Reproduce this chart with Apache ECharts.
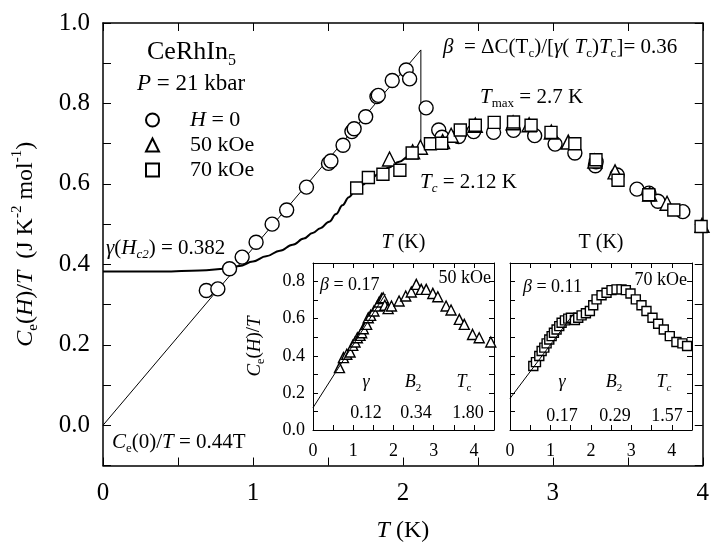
<!DOCTYPE html>
<html>
<head>
<meta charset="utf-8">
<script src="https://cdn.jsdelivr.net/npm/echarts@6/dist/echarts.min.js"></script>
<style>
  html, body { margin: 0; padding: 0; background: #fff; }
  #chart { width: 712px; height: 548px; }
</style>
</head>
<body>
<div id="chart"></div>
<script>
const FONT = 'Liberation Serif'

// main panel: C_e(H)/T vs T, points as [T, value]
const h0Points = [
  [0.689, 0.335], [0.766, 0.339], [0.844, 0.389], [0.928, 0.418], [1.021, 0.455],
  [1.128, 0.500], [1.225, 0.535], [1.357, 0.592], [1.504, 0.651], [1.520, 0.657],
  [1.601, 0.696], [1.660, 0.730], [1.675, 0.737], [1.752, 0.767], [1.827, 0.817],
  [1.836, 0.820], [1.929, 0.857], [2.022, 0.883], [2.045, 0.861], [2.155, 0.789],
  [2.239, 0.734], [2.261, 0.716], [2.372, 0.718], [2.472, 0.730], [2.605, 0.728],
  [2.738, 0.733], [2.879, 0.720], [3.015, 0.699], [3.147, 0.677], [3.284, 0.645],
  [3.289, 0.655], [3.429, 0.622], [3.561, 0.587], [3.641, 0.577], [3.701, 0.557],
  [3.867, 0.531]
]
const h50Points = [
  [1.911, 0.662], [2.065, 0.680], [2.117, 0.691], [2.265, 0.705], [2.322, 0.721],
  [2.483, 0.746], [2.735, 0.752], [2.842, 0.747], [2.990, 0.729], [3.103, 0.704],
  [3.280, 0.657], [3.415, 0.630], [3.646, 0.575], [3.762, 0.552], [3.995, 0.497]
]
const h70Points = [
  [1.692, 0.590], [1.770, 0.616], [1.867, 0.624], [1.980, 0.634], [2.062, 0.677],
  [2.184, 0.700], [2.259, 0.701], [2.383, 0.734], [2.483, 0.746], [2.609, 0.753],
  [2.738, 0.754], [2.855, 0.746], [2.988, 0.728], [3.147, 0.700], [3.288, 0.660],
  [3.435, 0.609], [3.640, 0.573], [3.807, 0.535], [3.989, 0.494]
]
// C_e(0)/T = 0.44T up to Tc = 2.12 K, then the jump down
const linearFit = [[0, 0], [2.12, 0.933], [2.12, 0.687]]
// thick curve starting from gamma(Hc2) = 0.382
const hc2Curve = [
  [0, 0.382], [0.4, 0.382], [0.645, 0.385], [0.844, 0.390], [0.91, 0.396],
  [1.0, 0.407], [1.088, 0.420], [1.18, 0.434], [1.265, 0.449], [1.34, 0.464],
  [1.398, 0.478], [1.45, 0.490], [1.508, 0.506], [1.555, 0.525], [1.597, 0.547],
  [1.64, 0.567], [1.686, 0.585], [1.73, 0.598], [1.774, 0.609], [1.84, 0.625],
  [1.907, 0.641], [1.975, 0.655], [2.040, 0.669], [2.12, 0.687]
]

// inset 50 kOe
const inset50Points = [
  [0.658, 0.336], [0.757, 0.390], [0.840, 0.408], [0.922, 0.420], [0.988, 0.456],
  [1.045, 0.474], [1.103, 0.497], [1.169, 0.510], [1.210, 0.524], [1.251, 0.546],
  [1.333, 0.569], [1.374, 0.605], [1.432, 0.618], [1.514, 0.641], [1.597, 0.668],
  [1.646, 0.690], [1.704, 0.708], [1.745, 0.713], [1.786, 0.672], [1.868, 0.654],
  [1.951, 0.668], [2.140, 0.695], [2.305, 0.722], [2.444, 0.744], [2.568, 0.785],
  [2.691, 0.758], [2.815, 0.758], [2.979, 0.736], [3.103, 0.718], [3.309, 0.668],
  [3.432, 0.647], [3.638, 0.596], [3.761, 0.569], [3.967, 0.515], [4.132, 0.497],
  [4.420, 0.474]
]
const inset50Fit = [[0, 0.12], [1.80, 0.732]]

// inset 70 kOe
const inset70Points = [
  [0.576, 0.345], [0.642, 0.366], [0.724, 0.399], [0.782, 0.426], [0.848, 0.444],
  [0.905, 0.467], [0.971, 0.488], [1.029, 0.506], [1.086, 0.524], [1.152, 0.542],
  [1.218, 0.560], [1.276, 0.578], [1.358, 0.591], [1.440, 0.600], [1.506, 0.605],
  [1.605, 0.593], [1.687, 0.605], [1.770, 0.618], [1.877, 0.629], [1.975, 0.641],
  [2.058, 0.672], [2.140, 0.704], [2.263, 0.726], [2.387, 0.740], [2.510, 0.754],
  [2.634, 0.758], [2.757, 0.758], [2.864, 0.754], [2.979, 0.736], [3.111, 0.704],
  [3.251, 0.672], [3.374, 0.641], [3.523, 0.605], [3.663, 0.573], [3.802, 0.542],
  [3.951, 0.506], [4.115, 0.474], [4.263, 0.467], [4.379, 0.453]
]
const inset70Fit = [[0, 0.17], [1.57, 0.625]]

const legendNames = ['H = 0', '50 kOe', '70 kOe']

// rich text styles for italics / sub / superscripts at a given size
function rich(s) {
  const lh = Math.round(s * 1.3)
  const sm = Math.round(s * 0.62)
  const base = { fontFamily: FONT, color: '#000', fill: '#000' }
  return {
    n: { ...base, fontSize: s, lineHeight: lh },
    i: { ...base, fontSize: s, lineHeight: lh, fontStyle: 'italic' },
    sub: { ...base, fontSize: sm, lineHeight: sm + 2, verticalAlign: 'bottom' },
    isub: { ...base, fontSize: sm, lineHeight: sm + 2, verticalAlign: 'bottom', fontStyle: 'italic' },
    sup: { ...base, fontSize: sm, lineHeight: sm + 2, verticalAlign: 'top' },
    p: { width: 26 }
  }
}

function txt(x, y, text, size, align) {
  return {
    type: 'text', x: x, y: y, z: 100,
    style: {
      text: text, fill: '#000', font: size + 'px "' + FONT + '"',
      textAlign: align || 'left', textVerticalAlign: 'middle', rich: rich(size)
    }
  }
}

const evenLabel = v => {
  const k = Math.round(v * 10)
  return (k % 2 === 0 && k >= 0) ? (k / 10).toFixed(1) : ''
}
const intLabel = v => Math.abs(v - Math.round(v)) < 1e-6 ? String(Math.round(v)) : ''

// axis helper, ticks point inward on every side
function axis(grid, pos, min, max, interval, tick, width, extra) {
  return Object.assign({
    gridIndex: grid, type: 'value', position: pos, min: min, max: max, interval: interval,
    axisLine: { onZero: false, lineStyle: { color: '#000', width: width } },
    axisTick: { inside: true, length: tick, lineStyle: { color: '#000', width: 1 } },
    splitLine: { show: false },
    axisLabel: { show: false }
  }, extra)
}

const chart = echarts.init(document.getElementById('chart'))

const hollow = { color: '#fff', borderColor: '#000', borderWidth: 1.4, opacity: 1 }

chart.setOption({
  animation: false,
  backgroundColor: '#fff',
  grid: [
    { left: 103, top: 23, width: 602, height: 449 },
    { left: 313, top: 263, width: 181, height: 167 },
    { left: 510, top: 263, width: 182, height: 167 }
  ],
  legend: {
    data: legendNames,
    orient: 'vertical',
    left: 140, top: 104,
    itemWidth: 13, itemHeight: 13, itemGap: 3,
    formatter: name => name === 'H = 0' ? '{p|}{i|H}{n| = 0}' : '{p|}{n|' + name + '}',
    textStyle: { rich: rich(22) }
  },
  xAxis: [
    axis(0, 'bottom', 0, 4, 1, 8, 1.5, {
      minorTick: { show: true, splitNumber: 2, length: 8, lineStyle: { color: '#000' } },
      axisLabel: { show: true, color: '#000', fontFamily: FONT, fontSize: 25, margin: 15, formatter: intLabel },
      name: '{i|T}{n| (K)}', nameLocation: 'middle', nameGap: 50,
      nameTextStyle: { rich: rich(24) }
    }),
    axis(0, 'top', 0, 4, 0.5, 8, 1.5),
    axis(1, 'bottom', 0, 4.5, 1, 5, 1, {
      minorTick: { show: true, splitNumber: 2, length: 5, lineStyle: { color: '#000' } },
      axisLabel: { show: true, color: '#000', fontFamily: FONT, fontSize: 18, margin: 12, formatter: intLabel }
    }),
    axis(1, 'top', 0, 4.5, 0.5, 5, 1, {
      name: '{i|T}{n| (K)}', nameLocation: 'middle', nameGap: 7,
      nameTextStyle: { rich: rich(20) }
    }),
    axis(2, 'bottom', 0, 4.5, 1, 5, 1, {
      minorTick: { show: true, splitNumber: 2, length: 5, lineStyle: { color: '#000' } },
      axisLabel: { show: true, color: '#000', fontFamily: FONT, fontSize: 18, margin: 12, formatter: intLabel }
    }),
    axis(2, 'top', 0, 4.5, 0.5, 5, 1, {
      name: '{n|T (K)}', nameLocation: 'middle', nameGap: 7,
      nameTextStyle: { rich: rich(20) }
    })
  ],
  yAxis: [
    axis(0, 'left', -0.1, 1.0, 0.1, 8, 1.5, {
      axisLabel: { show: true, color: '#000', fontFamily: FONT, fontSize: 25, margin: 13, formatter: evenLabel },
      name: '{i|C}{sub|e}{n|(}{i|H}{n|)/}{i|T}{n|  (J K}{sup|-2}{n| mol}{sup|-1}{n|)}',
      nameLocation: 'middle', nameRotate: 90, nameGap: 62,
      nameTextStyle: { rich: rich(24) }
    }),
    axis(0, 'right', -0.1, 1.0, 0.1, 8, 1.5),
    axis(1, 'left', 0, 0.9, 0.1, 5, 1, {
      axisLabel: { show: true, color: '#000', fontFamily: FONT, fontSize: 18, margin: 8, formatter: evenLabel },
      name: '{i|C}{sub|e}{n|(}{i|H}{n|)/}{i|T}',
      nameLocation: 'middle', nameRotate: 90, nameGap: 46,
      nameTextStyle: { rich: rich(19) }
    }),
    axis(1, 'right', 0, 0.9, 0.1, 5, 1),
    axis(2, 'left', 0, 0.9, 0.1, 5, 1),
    axis(2, 'right', 0, 0.9, 0.1, 5, 1)
  ],
  series: [
    { type: 'line', data: linearFit, xAxisIndex: 0, yAxisIndex: 0, symbol: 'none',
      lineStyle: { color: '#000', width: 1 }, z: 1 },
    { type: 'line', data: hc2Curve, xAxisIndex: 0, yAxisIndex: 0, symbol: 'none',
      smooth: 0.4, smoothMonotone: 'x',
      lineStyle: { color: '#000', width: 2 }, z: 1 },
    { name: 'H = 0', type: 'scatter', data: h0Points, xAxisIndex: 0, yAxisIndex: 0,
      symbol: 'circle', symbolSize: 14, itemStyle: hollow, z: 3 },
    { name: '50 kOe', type: 'scatter', data: h50Points, xAxisIndex: 0, yAxisIndex: 0,
      symbol: 'triangle', symbolSize: 14, itemStyle: hollow, z: 3 },
    { name: '70 kOe', type: 'scatter', data: h70Points, xAxisIndex: 0, yAxisIndex: 0,
      symbol: 'rect', symbolSize: 12, itemStyle: hollow, z: 3 },
    { type: 'line', data: inset50Fit, xAxisIndex: 2, yAxisIndex: 2, symbol: 'none',
      lineStyle: { color: '#000', width: 1 } },
    { type: 'scatter', data: inset50Points, xAxisIndex: 2, yAxisIndex: 2,
      symbol: 'triangle', symbolSize: 10, itemStyle: hollow },
    { type: 'line', data: inset70Fit, xAxisIndex: 4, yAxisIndex: 4, symbol: 'none',
      lineStyle: { color: '#000', width: 1 } },
    { type: 'scatter', data: inset70Points, xAxisIndex: 4, yAxisIndex: 4,
      symbol: 'rect', symbolSize: 9, itemStyle: hollow }
  ],
  graphic: [
    txt(147, 52, '{n|CeRhIn}{sub|5}', 26),
    txt(137, 84, '{i|P}{n| = 21 kbar}', 23),
    txt(106, 248, '{i|γ}{n|(}{i|H}{isub|c2}{n|) = 0.382}', 21),
    txt(112, 442, '{i|C}{sub|e}{n|(0)/}{i|T}{n| = 0.44T}', 21),
    txt(443, 47, '{i|β}{n|  = ΔC(T}{sub|c}{n|)/[}{i|γ}{n|( }{i|T}{sub|c}{n|)}{i|T}{sub|c}{n|]= 0.36}', 21),
    txt(480, 97, '{i|T}{sub|max}{n| = 2.7 K}', 21),
    txt(420, 182, '{i|T}{isub|c}{n| = 2.12 K}', 21),
    // inset 50 kOe labels
    txt(320, 285, '{i|β}{n| = 0.17}', 18),
    txt(491, 278, '{n|50 kOe}', 18, 'right'),
    txt(366, 382, '{i|γ}', 18, 'center'),
    txt(413, 382, '{i|B}{sub|2}', 18, 'center'),
    txt(464, 382, '{i|T}{sub|c}', 18, 'center'),
    txt(366, 413, '{n|0.12}', 18, 'center'),
    txt(416, 413, '{n|0.34}', 18, 'center'),
    txt(468, 413, '{n|1.80}', 18, 'center'),
    // inset 70 kOe labels
    txt(523, 287, '{i|β}{n| = 0.11}', 18),
    txt(687, 280, '{n|70 kOe}', 18, 'right'),
    txt(562, 382, '{i|γ}', 18, 'center'),
    txt(614, 382, '{i|B}{sub|2}', 18, 'center'),
    txt(664, 382, '{i|T}{isub|c}', 18, 'center'),
    txt(562, 416, '{n|0.17}', 18, 'center'),
    txt(615, 416, '{n|0.29}', 18, 'center'),
    txt(667, 416, '{n|1.57}', 18, 'center')
  ]
})
</script>
</body>
</html>
